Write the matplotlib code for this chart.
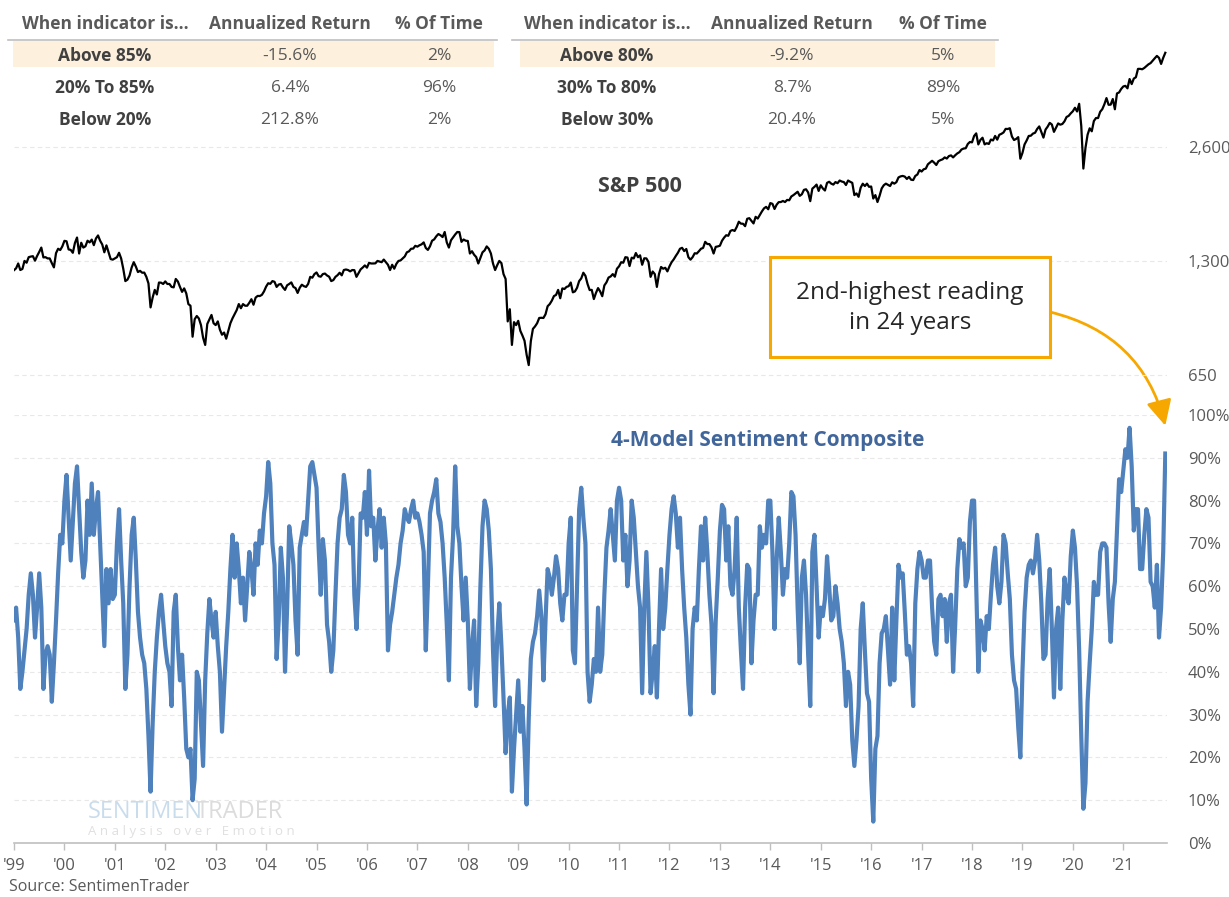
import matplotlib
matplotlib.use('Agg')
import matplotlib.pyplot as plt
import numpy as np
from matplotlib.patches import Rectangle
from matplotlib.lines import Line2D
from matplotlib.ticker import FixedLocator, NullLocator

plt.rcParams['font.family'] = ['Open Sans', 'DejaVu Sans']

# ---------------- data (semi-monthly readings, Jan 1999 .. Nov 2021) ----------------
START_YEAR = 1999
STEPS_PER_YEAR = 24

spx_1999 = [1229,1243, 1280,1230, 1238,1300, 1286,1330, 1335,1338, 1302,1340, 1373,1410, 1328,1330, 1320,1320, 1283,1250, 1363,1400, 1389,1420]
spx_2000 = [1469,1465, 1394,1390, 1366,1450, 1499,1360, 1452,1410, 1421,1470, 1455,1480, 1431,1490, 1518,1470, 1437,1370, 1429,1370, 1315,1310]
spx_2001 = [1320,1330, 1366,1320, 1240,1150, 1160,1190, 1249,1290, 1256,1215, 1224,1210, 1211,1180, 1134,980, 1041,1090, 1060,1140, 1139,1130]
spx_2002 = [1148,1130, 1130,1110, 1107,1165, 1147,1110, 1077,1100, 1067,1000, 990,820, 912,930, 916,880, 815,780, 886,910, 936,890]
spx_2003 = [880,900, 856,830, 841,810, 848,890, 917,940, 964,1000, 975,1000, 990,990, 1008,1030, 996,1040, 1051,1050, 1058,1080]
spx_2004 = [1112,1135, 1131,1150, 1145,1110, 1126,1130, 1107,1090, 1121,1130, 1141,1110, 1102,1070, 1104,1125, 1115,1110, 1130,1180, 1174,1200]
spx_2005 = [1212,1185, 1181,1200, 1204,1190, 1181,1150, 1157,1180, 1192,1210, 1191,1230, 1234,1230, 1220,1230, 1229,1180, 1207,1235, 1249,1265]
spx_2006 = [1248,1285, 1280,1280, 1281,1300, 1295,1290, 1311,1290, 1270,1230, 1270,1240, 1277,1300, 1304,1320, 1336,1370, 1378,1400, 1401,1425]
spx_2007 = [1418,1430, 1438,1455, 1407,1390, 1421,1470, 1482,1510, 1531,1520, 1503,1550, 1455,1410, 1474,1500, 1527,1550, 1549,1460, 1481,1470]
spx_2008 = [1468,1360, 1379,1350, 1331,1280, 1323,1370, 1386,1420, 1400,1360, 1280,1230, 1267,1300, 1283,1200, 1165,900, 969,780, 896,880]
spx_2009 = [903,850, 826,800, 735,690, 798,860, 873,890, 919,920, 919,940, 987,1000, 1021,1050, 1057,1090, 1036,1100, 1096,1110]
spx_2010 = [1115,1140, 1074,1080, 1104,1150, 1169,1210, 1187,1130, 1089,1090, 1031,1070, 1102,1080, 1049,1120, 1141,1175, 1183,1200, 1181,1240]
spx_2011 = [1258,1290, 1286,1330, 1327,1260, 1326,1320, 1364,1330, 1345,1270, 1321,1320, 1292,1180, 1219,1200, 1110,1200, 1253,1240, 1247,1220]
spx_2012 = [1258,1290, 1312,1340, 1366,1400, 1408,1380, 1398,1330, 1310,1330, 1362,1360, 1379,1400, 1407,1460, 1441,1440, 1412,1360, 1416,1420]
spx_2013 = [1426,1470, 1498,1520, 1515,1560, 1569,1560, 1598,1650, 1631,1630, 1606,1680, 1686,1660, 1633,1700, 1682,1720, 1757,1790, 1806,1780]
spx_2014 = [1848,1840, 1783,1830, 1859,1860, 1872,1860, 1884,1880, 1924,1940, 1960,1980, 1931,1950, 2003,2010, 1972,1870, 2018,2040, 2068,1990]
spx_2015 = [2059,2020, 1995,2090, 2104,2080, 2068,2100, 2086,2120, 2107,2100, 2063,2120, 2104,2090, 1940,1960, 1920,2030, 2079,2050, 2080,2040]
spx_2016 = [2044,1900, 1940,1860, 1932,2020, 2060,2080, 2065,2050, 2097,2080, 2099,2160, 2174,2180, 2171,2140, 2168,2130, 2126,2180, 2199,2260]
spx_2017 = [2239,2270, 2279,2340, 2364,2390, 2363,2330, 2384,2400, 2412,2440, 2423,2460, 2470,2440, 2472,2500, 2519,2560, 2575,2580, 2648,2680]
spx_2018 = [2674,2780, 2824,2640, 2714,2750, 2641,2660, 2648,2720, 2705,2780, 2718,2800, 2816,2840, 2902,2900, 2914,2770, 2712,2730, 2760,2420]
spx_2019 = [2507,2640, 2704,2780, 2784,2820, 2834,2900, 2946,2850, 2752,2890, 2942,3010, 2980,2850, 2926,3000, 2977,2990, 3038,3120, 3141,3190]
spx_2020 = [3231,3300, 3226,3380, 2954,2280, 2585,2800, 2912,2860, 3044,3100, 3100,3220, 3271,3370, 3500,3360, 3363,3480, 3270,3600, 3622,3700]
spx_2021 = [3756,3770, 3714,3930, 3811,3940, 3973,4180, 4181,4170, 4204,4250, 4298,4330, 4395,4460, 4523,4470, 4308,4470, 4610]

sent_1999 = [52,55,48,36,40,45,50,58,63,58,48,55,63,55,36,44,46,44,33,42,52,63,72,70]
sent_2000 = [80,86,76,66,75,84,88,78,68,62,66,80,72,84,72,78,82,70,58,46,64,56,64,57]
sent_2001 = [58,70,78,66,56,36,44,60,72,76,66,54,48,44,42,36,25,12,28,40,48,54,58,52]
sent_2002 = [46,42,40,32,54,58,46,38,44,34,22,20,22,10,15,40,38,28,18,38,49,57,52,48]
sent_2003 = [54,46,40,26,36,46,54,64,72,62,70,64,56,62,52,60,68,64,58,70,65,73,70,77]
sent_2004 = [81,89,84,70,65,43,52,69,62,40,55,74,70,65,52,44,69,72,75,72,80,88,89,86]
sent_2005 = [83,69,58,71,66,51,47,40,45,58,70,76,78,86,82,72,70,76,58,50,60,77,76,82]
sent_2006 = [72,87,74,76,66,73,78,69,76,70,45,51,54,58,62,65,70,73,78,76,75,78,80,76]
sent_2007 = [77,75,72,68,45,60,77,80,82,85,77,75,70,62,51,38,62,72,88,74,70,60,52,62]
sent_2008 = [52,36,46,52,32,42,60,74,80,78,73,64,45,32,48,56,46,34,21,30,34,12,22,30]
sent_2009 = [38,26,32,22,9,29,43,47,49,53,59,53,38,52,64,62,58,62,67,64,56,52,58,58]
sent_2010 = [70,76,45,42,60,78,83,76,70,40,33,37,43,40,55,40,44,58,69,73,78,72,66,80]
sent_2011 = [83,80,66,72,60,66,80,76,68,60,55,35,55,68,55,35,40,46,34,50,64,50,55,64]
sent_2012 = [72,78,81,77,69,76,64,55,48,37,30,50,55,52,64,74,66,76,68,58,51,35,52,62]
sent_2013 = [73,79,78,66,74,60,58,64,76,55,45,36,55,65,64,42,52,58,58,74,69,72,70,80]
sent_2014 = [80,68,50,66,76,68,58,64,62,70,82,81,72,55,42,62,66,58,44,32,68,72,60,48]
sent_2015 = [55,53,57,67,60,52,53,60,56,50,47,42,32,40,37,24,18,24,32,50,56,45,35,33]
sent_2016 = [15,5,22,25,42,49,50,53,45,37,55,38,52,65,62,63,54,44,46,42,32,56,64,68]
sent_2017 = [66,62,62,66,66,55,47,44,57,58,53,57,47,56,58,40,51,64,71,69,70,60,62,75]
sent_2018 = [80,80,60,40,52,50,45,53,50,58,65,69,60,56,61,72,70,63,57,44,38,36,27,20]
sent_2019 = [40,54,62,65,66,63,66,72,66,56,43,44,57,64,50,34,50,55,36,52,62,58,56,67]
sent_2020 = [73,69,60,45,25,8,14,33,42,50,61,58,58,68,70,70,69,56,47,57,61,73,85,82]
sent_2021 = [87,92,90,97,88,73,78,78,64,64,72,78,76,61,60,55,65,48,55,68,91]

spx_ticks = [650, 1300, 2600]
spx_tick_labels = ["650", "1,300", "2,600"]
sent_ticks = [0, 10, 20, 30, 40, 50, 60, 70, 80, 90, 100]
year_ticks = list(range(1999, 2022))
year_labels = ["'%02d" % (y % 100) for y in year_ticks]

table_headers = ["When indicator is...", "Annualized Return", "% Of Time"]
table1_labels = ["Above 85%", "20% To 85%", "Below 20%"]
table1_returns = ["-15.6%", "6.4%", "212.8%"]
table1_time = ["2%", "96%", "2%"]
table2_labels = ["Above 80%", "30% To 80%", "Below 30%"]
table2_returns = ["-9.2%", "8.7%", "20.4%"]
table2_time = ["5%", "89%", "5%"]

spx = np.array(sum([spx_1999, spx_2000, spx_2001, spx_2002, spx_2003, spx_2004, spx_2005,
                    spx_2006, spx_2007, spx_2008, spx_2009, spx_2010, spx_2011, spx_2012,
                    spx_2013, spx_2014, spx_2015, spx_2016, spx_2017, spx_2018, spx_2019,
                    spx_2020, spx_2021], []), dtype=float)
sent = np.array(sum([sent_1999, sent_2000, sent_2001, sent_2002, sent_2003, sent_2004, sent_2005,
                     sent_2006, sent_2007, sent_2008, sent_2009, sent_2010, sent_2011, sent_2012,
                     sent_2013, sent_2014, sent_2015, sent_2016, sent_2017, sent_2018, sent_2019,
                     sent_2020, sent_2021], []), dtype=float)
x_spx = START_YEAR + np.arange(len(spx)) / STEPS_PER_YEAR
x_sent = START_YEAR + np.arange(len(sent)) / STEPS_PER_YEAR

# ---------------- layout ----------------
W, H = 1229, 897
fig = plt.figure(figsize=(W / 100, H / 100), dpi=100)

def fx(px):
    return px / W

def fy(py):
    return 1 - py / H

LEFT, RIGHT = 14, 1167
XMIN, XMAX = 1999.0, 2021.867
GRID = '#E8E8E8'
LABEL = '#595959'
BLUE = '#4F81BD'
ORANGE = '#F7A800'
TICKFS = 12

# lower axis: sentiment composite
ax2 = fig.add_axes([fx(LEFT), fy(843), fx(RIGHT - LEFT), (843 - 415) / H])
ax2.plot(x_sent, sent, color=BLUE, lw=3.0, solid_joinstyle='round', zorder=3)
ax2.set_xlim(XMIN, XMAX)
ax2.set_ylim(0, 100)
ax2.yaxis.tick_right()
ax2.yaxis.set_major_locator(FixedLocator(sent_ticks))
ax2.set_yticklabels(["%d%%" % t for t in sent_ticks])
ax2.tick_params(axis='y', length=0, pad=15, labelsize=TICKFS, labelcolor=LABEL)
ax2.xaxis.set_major_locator(FixedLocator(year_ticks))
ax2.set_xticklabels(year_labels)
ax2.tick_params(axis='x', length=5, width=1, color='#BFBFBF', pad=6, labelsize=TICKFS, labelcolor=LABEL)
for t in sent_ticks[1:]:
    ax2.axhline(t, color=GRID, lw=0.8, ls=(0, (4, 3)), zorder=1)
for s in ['top', 'left', 'right']:
    ax2.spines[s].set_visible(False)
ax2.spines['bottom'].set_color('#BFBFBF')
ax2.spines['bottom'].set_linewidth(1.2)
ax2.patch.set_alpha(0)

# upper axis: S&P 500 (log scale)
ax1 = fig.add_axes([fx(LEFT), fy(400), fx(RIGHT - LEFT), 400 / H])
ax1.plot(x_spx, spx, color='black', lw=1.6, zorder=3)
ax1.set_yscale('log')
ax1.set_xlim(XMIN, XMAX)
ax1.set_ylim(558, 6355)
ax1.yaxis.tick_right()
ax1.yaxis.set_major_locator(FixedLocator(spx_ticks))
ax1.yaxis.set_minor_locator(NullLocator())
ax1.set_yticklabels(spx_tick_labels)
ax1.tick_params(axis='y', length=0, pad=15, labelsize=TICKFS, labelcolor=LABEL)
ax1.set_xticks([])
for t in spx_ticks:
    ax1.axhline(t, color=GRID, lw=0.8, ls=(0, (4, 3)), zorder=1)
for s in ax1.spines.values():
    s.set_visible(False)
ax1.patch.set_alpha(0)

# titles
fig.text(fx(640), fy(186), "S&P 500", ha='center', va='center', fontsize=15.5,
         fontweight='bold', color='#404040')
fig.text(fx(768), fy(440), "4-Model Sentiment Composite", ha='center', va='center',
         fontsize=15, fontweight='bold', color='#41669B')

# tables
TFS = 12.5
def draw_table(x0, x1, hl0, col_centers, labels, rets, times):
    fig.add_artist(Rectangle((fx(hl0), fy(67)), fx(x1 - 3 - hl0), 26 / H,
                             transform=fig.transFigure, facecolor='#FDF1DE',
                             edgecolor='none', zorder=0))
    fig.add_artist(Line2D([fx(x0), fx(x1)], [fy(40.5), fy(40.5)], transform=fig.transFigure,
                          color='#BFBFBF', lw=1.2))
    for cx, h in zip(col_centers, table_headers):
        fig.text(fx(cx), fy(24), h, ha='center', va='center', fontsize=TFS,
                 fontweight='bold', color=LABEL)
    for i, (lab, r, t) in enumerate(zip(labels, rets, times)):
        yy = fy(56 + 32 * i)
        fig.text(fx(col_centers[0]), yy, lab, ha='center', va='center', fontsize=TFS,
                 fontweight='bold', color='#404040')
        fig.text(fx(col_centers[1]), yy, r, ha='center', va='center', fontsize=TFS, color=LABEL)
        fig.text(fx(col_centers[2]), yy, t, ha='center', va='center', fontsize=TFS, color=LABEL)

draw_table(8, 497, 13, [105, 290, 439], table1_labels, table1_returns, table1_time)
draw_table(512, 998, 520, [607, 792, 943], table2_labels, table2_returns, table2_time)

# annotation box + arrow
fig.add_artist(Rectangle((fx(770), fy(357)), fx(280), 100 / H, transform=fig.transFigure,
                         facecolor='white', edgecolor=ORANGE, lw=2.2, zorder=5))
fig.text(fx(910), fy(308), "2nd-highest reading\nin 24 years", ha='center', va='center',
         fontsize=17.5, color='#262626', linespacing=1.3, zorder=6)
ax2.annotate('', xy=(x_sent[-1], 97.5), xycoords='data',
             xytext=(fx(1050), fy(312)), textcoords='figure fraction',
             arrowprops=dict(arrowstyle='-|>,head_length=0.7,head_width=0.35',
                             connectionstyle='arc3,rad=-0.3', color=ORANGE, lw=2,
                             mutation_scale=22, shrinkA=0, shrinkB=0),
             annotation_clip=False, zorder=6)

# watermark
fig.text(fx(88), fy(812), "SENTIMEN", ha='left', va='center', fontsize=17,
         color='#C9DCEC')
fig.text(fx(196), fy(812), "TRADER", ha='left', va='center', fontsize=17,
         color='#DCDCDC')
fig.text(fx(88), fy(831), "A n a l y s i s   o v e r   E m o t i o n", ha='left', va='center',
         fontsize=9.5, color='#E0E0E0')

# source
fig.text(fx(9), fy(887), "Source: SentimenTrader", ha='left', va='center', fontsize=11.5,
         color=LABEL)

fig.savefig('out.png', dpi=100)
